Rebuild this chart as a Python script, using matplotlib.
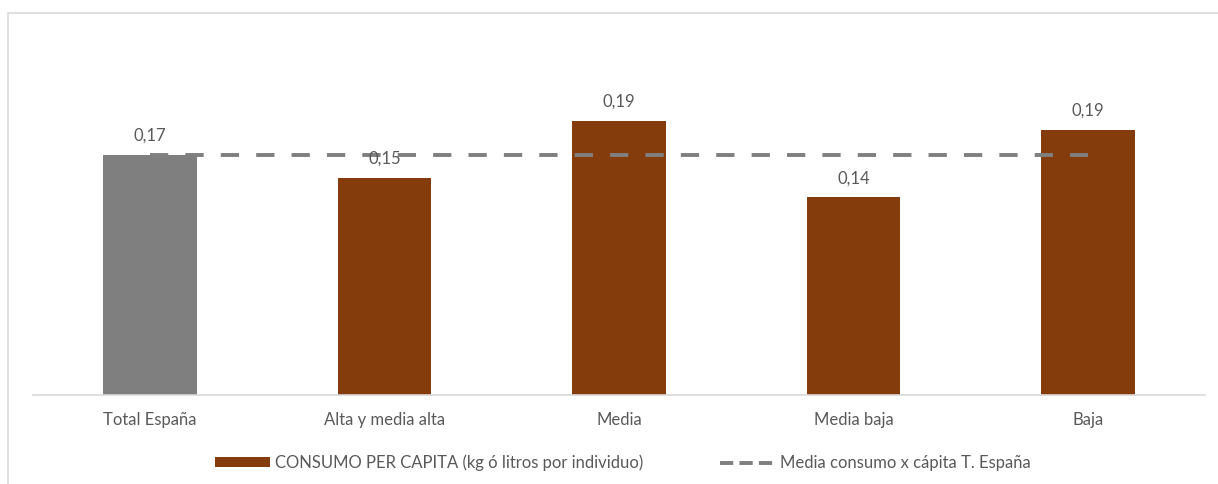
import matplotlib
matplotlib.use("Agg")
import matplotlib.pyplot as plt
from matplotlib.patches import Rectangle, Patch
from matplotlib.lines import Line2D

categories = ["Total España", "Alta y media alta", "Media", "Media baja", "Baja"]
consumo = [0.170, 0.154, 0.194, 0.140, 0.188]
media_espana = 0.170
labels = ["0,17", "0,15", "0,19", "0,14", "0,19"]

bar_colors = ["#7f7f7f", "#843c0c", "#843c0c", "#843c0c", "#843c0c"]
text_color = "#595959"
plt.rcParams['font.family'] = ["Lato", "DejaVu Sans"]

W, H = 1218, 484
fig = plt.figure(figsize=(W / 100, H / 100), dpi=100)
fig.patches.append(Rectangle((8 / W, -0.1), 1.2, (H - 13) / H + 0.1, transform=fig.transFigure,
                             fill=False, edgecolor="#d9d9d9", linewidth=1.2))

ax_left, ax_right = 33 / W, 1205 / W
ax_bottom = (H - 395) / H
ymax = 0.25
px_per_unit = 1412
ax_top = (H - (395 - ymax * px_per_unit)) / H
ax = fig.add_axes([ax_left, ax_bottom, ax_right - ax_left, ax_top - ax_bottom])

x = list(range(len(categories)))
ax.bar(x, consumo, width=0.4, color=bar_colors, zorder=2)
ax.plot([x[0], x[-1]], [media_espana] * 2, color="#7f7f7f", linewidth=2.8,
        dashes=(4.7, 4.4), zorder=3, dash_capstyle="butt")

for xi, v, lab in zip(x, consumo, labels):
    ax.annotate(lab, (xi, v), xytext=(0, 8), textcoords="offset points",
                ha="center", va="bottom", fontsize=12, color=text_color, zorder=4)

ax.set_xlim(-0.5, len(categories) - 0.5)
ax.set_ylim(0, ymax)
ax.set_xticks(x)
ax.set_xticklabels(categories, fontsize=12, color=text_color)
ax.tick_params(axis="x", length=0, pad=12)
ax.set_yticks([])
for s in ["top", "right", "left"]:
    ax.spines[s].set_visible(False)
ax.spines["bottom"].set_color("#d9d9d9")
ax.spines["bottom"].set_linewidth(1.2)

handles = [Patch(facecolor="#843c0c", edgecolor="none"),
           Line2D([0], [0], color="#7f7f7f", linewidth=2.8, dashes=(3.4, 1.6))]
leg_labels = ["CONSUMO PER CAPITA (kg ó litros por individuo)", "Media consumo x cápita T. España"]
fig.legend(handles, leg_labels, loc="center", bbox_to_anchor=(0.5115, (H - 463) / H), ncol=2,
           frameon=False, fontsize=12, labelcolor=text_color, handlelength=3.3,
           handleheight=0.55, handletextpad=0.3, columnspacing=4.6)

fig.savefig("out.png", dpi=100)
